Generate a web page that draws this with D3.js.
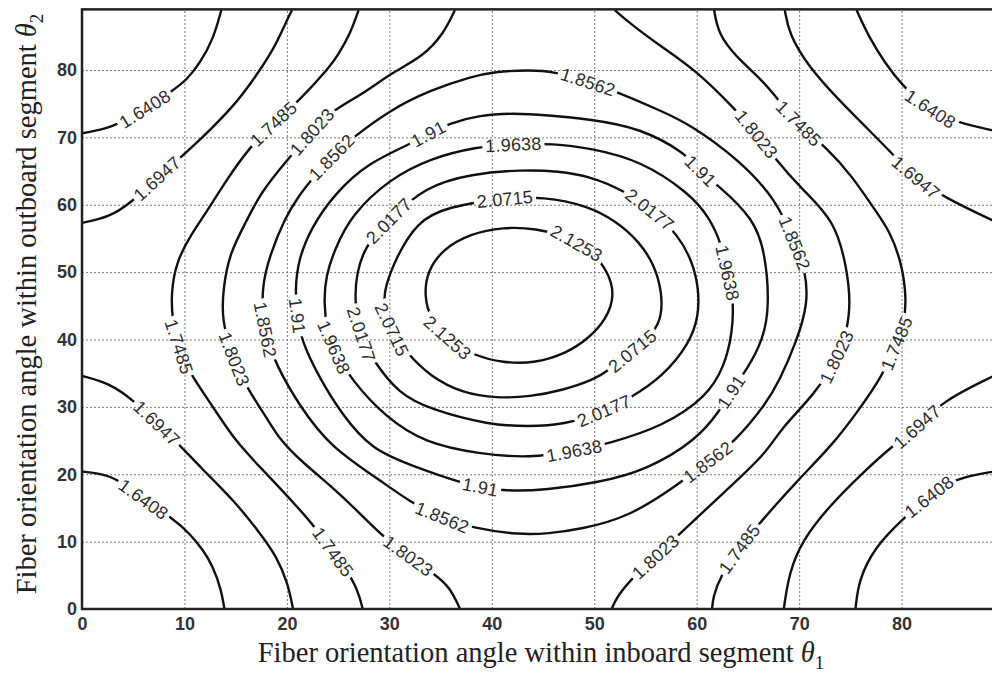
<!DOCTYPE html>
<html>
<head>
<meta charset="utf-8">
<script src="https://cdn.jsdelivr.net/npm/d3@7"></script>
<style>
  body { margin: 0; background: #fff; }
  svg { display: block; background: #fff; }
  .grid line { stroke: #7a7a7a; stroke-dasharray: 2,2; stroke-width: 1; }
  .grid path { display: none; }
  .ticks path { display: none; }
  .ticks line { display: none; }
  .ticks text { font: bold 18px Arial, "Liberation Sans", sans-serif; fill: #333; }
  .contour { fill: none; stroke: #111; stroke-width: 2.4; stroke-linejoin: round; }
  .clabel { font: 18px Arial, "Liberation Sans", sans-serif; fill: #2e2e2e; letter-spacing: 0.2px; }
  .title { font: 28.5px "Times New Roman", "Liberation Serif", serif; fill: #222; }
</style>
</head>
<body>
<svg id="chart" width="992" height="675"></svg>
<script>
// contour levels shown on the plot
var levels = [1.6408, 1.6947, 1.7485, 1.8023, 1.8562, 1.91, 1.9638, 2.0177, 2.0715, 2.1253]
var xTicks = [0, 10, 20, 30, 40, 50, 60, 70, 80]
var yTicks = [0, 10, 20, 30, 40, 50, 60, 70, 80]

// contour lines, points are [theta1, theta2]
var c16408TL = [[0, 70.6], [3.0, 71.4], [6.15, 74.2], [8.9, 77.0], [10.2, 78.5], [11.5, 81.0], [12.8, 84.5], [13.6, 88.9]]
var c16408TR = [[75.6, 88.9], [76.8, 84.9], [78.4, 81.0], [80.0, 77.8], [82.6, 74.1], [85.6, 72.1], [89, 71.0]]
var c16408BL = [[0, 20.4], [1.8, 20.1], [3.5, 19.3], [6.0, 16.2], [9.1, 13.2], [10.5, 11.2], [11.8, 8.8], [12.8, 6.3], [13.6, 2.8], [13.9, 0]]
var c16408BR = [[75.5, 0], [75.8, 4.3], [77.4, 9.2], [80.0, 13.2], [82.6, 16.7], [85.2, 19.4], [89, 20.4]]

var c16947TL = [[0, 57.3], [2.7, 58.2], [4.7, 60.2], [7.3, 63.9], [9.9, 67.4], [11.5, 69.6], [14.8, 74.6], [16.7, 78.5], [18.7, 83.0], [20.0, 87.4], [20.5, 88.9]]
var c16947TR = [[68.6, 88.9], [69.0, 85.4], [70.9, 80.5], [73.9, 75.5], [76.8, 71.1], [79.4, 67.1], [81.3, 63.9], [84.3, 61.0], [89, 57.6]]
var c16947BL = [[0, 34.6], [2.7, 33.5], [5.0, 31.0], [7.3, 27.6], [9.7, 24.1], [11.5, 21.1], [14.8, 16.2], [17.4, 11.2], [19.0, 7.8], [20.1, 3.8], [20.6, 0]]
var c16947BR = [[68.5, 0], [69.0, 5.3], [70.3, 10.2], [72.9, 15.2], [76.1, 20.1], [79.4, 24.6], [81.7, 27.1], [83.9, 30.8], [89, 34.6]]

var c17485L = [[27.0, 88.9], [26.2, 85.4], [24.9, 82.0], [24.2, 80.5], [21.3, 75.6], [18.7, 72.1], [16.4, 68.6], [14.1, 63.7],
  [12.2, 59.0], [10.6, 55.5], [9.2, 51.5], [8.7, 47.0], [8.8, 43.0], [9.4, 38.9], [10.5, 35.0], [12.8, 30.0], [15.0, 24.8],
  [18.0, 20.1], [21.3, 14.7], [22.7, 12.2], [24.5, 8.5], [26.5, 4.3], [27.1, 1.8], [27.4, 0]]
var c17485R = [[61.7, 88.9], [62.1, 85.4], [63.8, 82.0], [66.4, 78.5], [68.0, 75.5], [70.0, 71.8], [72.6, 68.6], [75.2, 64.2],
  [77.4, 59.2], [78.8, 56.2], [80.0, 51.5], [80.5, 46.0], [80.2, 42.0], [79.5, 39.4], [78.1, 34.5], [75.8, 29.5], [73.4, 24.6],
  [69.6, 18.7], [66.4, 13.2], [64.1, 9.0], [62.3, 4.8], [61.6, 1.8], [61.5, 0]]

var c18023L = [[36.4, 88.9], [35.3, 85.4], [33.3, 82.0], [30.1, 79.5], [27.5, 76.5], [24.2, 73.8], [22.3, 70.6], [20.0, 66.6],
  [17.4, 61.7], [16.1, 57.7], [14.4, 52.8], [13.8, 47.8], [13.6, 42.9], [14.8, 37.0], [16.2, 32.5], [18.0, 28.5], [19.3, 25.1],
  [21.5, 21.8], [24.2, 18.4], [26.8, 14.7], [29.4, 10.7], [31.9, 7.8], [34.3, 5.3], [35.9, 3.3], [36.9, 0]]
var c18023R = [[52.0, 88.9], [53.5, 86.9], [56.5, 83.5], [59.9, 80.0], [63.8, 74.1], [65.9, 70.5], [67.6, 66.9], [70.2, 62.4],
  [73.5, 57.7], [74.7, 50.3], [75.0, 45.4], [74.7, 41.4], [73.7, 37.2], [71.6, 32.0], [68.1, 26.6], [66.8, 23.1], [62.6, 17.2],
  [58.7, 11.7], [56.4, 8.3], [53.8, 4.8], [52.2, 1.8], [51.7, 0]]

var c18562 = [[43.7, 80.0], [40.5, 79.8], [37.9, 79.0], [34.0, 77.0], [30.1, 74.1], [26.2, 69.7], [24.3, 67.1], [22.4, 63.7],
  [21.1, 61.2], [19.8, 58.0], [18.4, 52.8], [17.5, 47.8], [17.7, 41.4], [19.0, 36.0], [21.3, 30.0], [24.2, 24.1], [29.1, 19.1],
  [32.0, 15.9], [35.1, 13.5], [38.2, 12.0], [42.8, 11.0], [45.5, 11.2], [48.6, 11.8], [53.5, 13.7], [58.4, 18.7], [61.1, 21.9],
  [63.6, 24.6], [66.8, 30.5], [68.1, 34.0], [69.7, 39.5], [70.9, 45.4], [70.6, 50.3], [69.6, 54.3], [67.8, 60.7], [64.2, 66.6],
  [59.3, 72.0], [56.4, 74.0], [52.8, 76.4], [49.4, 78.3], [46.0, 79.8]]
var c1910 = [[42.1, 73.6], [38.8, 73.3], [35.9, 72.1], [33.8, 70.6], [32.2, 69.1], [27.9, 66.2], [24.7, 61.7], [22.4, 56.7],
  [21.1, 51.8], [20.8, 47.3], [21.0, 43.6], [21.4, 39.9], [23.1, 34.5], [25.3, 29.0], [28.3, 23.6], [32.2, 21.3], [36.9, 18.7],
  [41.1, 17.4], [45.4, 17.7], [50.2, 18.7], [55.1, 20.6], [60.0, 25.1], [62.3, 29.5], [63.3, 32.3], [64.9, 35.5], [66.5, 40.0],
  [67.1, 45.0], [66.7, 52.8], [65.6, 57.9], [62.1, 62.9], [60.3, 64.9], [59.0, 67.6], [54.5, 71.4], [49.6, 72.7], [45.4, 73.3]]
var c19638 = [[42.1, 69.0], [38.5, 68.6], [34.0, 66.9], [30.0, 63.8], [26.3, 58.5], [24.7, 53.5], [23.8, 49.5], [23.6, 45.5],
  [23.9, 41.5], [24.7, 38.2], [26.3, 34.0], [29.6, 28.5], [33.5, 24.6], [38.8, 23.0], [43.7, 22.4], [48.0, 23.4], [51.5, 24.6],
  [56.7, 27.1], [61.0, 31.5], [62.7, 36.0], [63.5, 41.0], [63.6, 46.0], [63.0, 50.0], [62.4, 54.3], [61.2, 58.2], [59.3, 61.7],
  [54.5, 66.6], [49.6, 68.4], [46.0, 69.1]]
var c20177 = [[43.0, 65.2], [38.0, 64.6], [33.5, 62.7], [29.9, 57.7], [27.6, 53.8], [26.8, 49.8], [26.6, 45.9], [27.1, 40.7],
  [28.5, 36.7], [30.9, 32.0], [34.0, 29.6], [39.8, 27.3], [43.5, 27.1], [47.0, 27.3], [51.0, 29.3], [53.5, 31.3], [56.7, 34.5],
  [59.3, 39.4], [60.2, 43.5], [60.2, 47.5], [59.6, 51.5], [58.2, 55.5], [55.8, 59.0], [52.8, 62.2], [49.6, 64.2], [46.5, 65.0]]
var c20715 = [[41.3, 61.0], [35.6, 59.7], [32.7, 57.5], [30.6, 52.0], [29.6, 47.8], [29.4, 45.4], [30.1, 41.4], [31.7, 38.0],
  [34.0, 34.5], [37.2, 32.0], [40.5, 31.3], [43.7, 31.5], [47.0, 32.5], [49.9, 34.0], [51.5, 35.5], [53.6, 38.2], [55.8, 40.9],
  [56.6, 43.5], [56.6, 47.0], [55.9, 51.0], [54.4, 54.5], [52.2, 57.5], [49.3, 59.9], [45.0, 61.2]]
var c21253 = [[52.0, 46.5], [51.4, 50.0], [49.8, 53.0], [47.3, 55.3], [44.3, 56.5], [41.1, 56.7], [37.9, 55.7], [35.2, 53.4],
  [33.7, 50.1], [33.4, 46.5], [34.0, 43.0], [35.7, 40.0], [38.1, 37.7], [41.1, 36.5], [44.3, 36.5], [47.2, 37.9], [49.5, 40.2],
  [51.2, 43.1]]

var contours = [
  { level: levels[0], closed: false, pts: c16408TL }, { level: levels[0], closed: false, pts: c16408TR },
  { level: levels[0], closed: false, pts: c16408BL }, { level: levels[0], closed: false, pts: c16408BR },
  { level: levels[1], closed: false, pts: c16947TL }, { level: levels[1], closed: false, pts: c16947TR },
  { level: levels[1], closed: false, pts: c16947BL }, { level: levels[1], closed: false, pts: c16947BR },
  { level: levels[2], closed: false, pts: c17485L }, { level: levels[2], closed: false, pts: c17485R },
  { level: levels[3], closed: false, pts: c18023L }, { level: levels[3], closed: false, pts: c18023R },
  { level: levels[4], closed: true, pts: c18562 }, { level: levels[5], closed: true, pts: c1910 },
  { level: levels[6], closed: true, pts: c19638 }, { level: levels[7], closed: true, pts: c20177 },
  { level: levels[8], closed: true, pts: c20715 }, { level: levels[9], closed: true, pts: c21253 }
]

// where the inline labels sit (level, approx theta1, theta2)
var labelSpots = [
  [1.6408, 6.15, 74.1], [1.6947, 7.3, 64.0], [1.7485, 18.6, 72.1], [1.8023, 22.5, 70.8], [1.8562, 24.3, 67.1],
  [1.91, 33.8, 70.6], [1.9638, 42.1, 69.0], [2.0177, 29.9, 57.7], [2.0715, 41.3, 60.7], [2.0177, 55.4, 59.2],
  [1.8562, 49.4, 78.2], [2.1253, 48.1, 53.7], [1.8023, 65.9, 70.6], [1.7485, 69.9, 71.9], [1.6408, 82.7, 74.1],
  [1.91, 60.3, 64.9], [1.6947, 81.3, 64.0], [1.8562, 69.6, 54.3], [1.9638, 63.0, 49.9], [1.8023, 73.7, 37.4],
  [1.7485, 79.5, 39.5], [1.91, 63.2, 32.4], [1.6947, 81.6, 27.0], [2.0715, 53.7, 38.3], [2.0177, 51.0, 29.4],
  [1.9638, 48.0, 23.9], [1.91, 38.8, 17.7], [1.8562, 35.1, 13.5], [1.8023, 31.8, 7.7], [1.7485, 24.5, 8.5],
  [1.6947, 7.3, 27.6], [1.6408, 6.0, 16.2], [1.7485, 9.3, 38.9], [1.8023, 14.7, 37.0], [1.8562, 17.7, 41.4],
  [1.91, 21.0, 43.6], [1.9638, 24.0, 38.4], [2.0177, 27.1, 40.7], [2.0715, 30.1, 41.4], [2.1253, 35.6, 40.2],
  [1.8023, 55.2, 9.0], [1.8562, 61.1, 21.8], [1.7485, 64.0, 9.1], [1.6408, 82.7, 16.6]
]

var svg = d3.select('#chart')
var plotLeft = 82, plotBottom = 609
var x = d3.scaleLinear().domain([0, 89]).range([plotLeft, plotLeft + 89 * 10.245])
var y = d3.scaleLinear().domain([0, 89]).range([plotBottom, plotBottom - 89 * 6.7375])
var plotTop = y(89), plotRight = x(89)
var plotW = plotRight - plotLeft, plotH = plotBottom - plotTop

svg.append('clipPath').attr('id', 'plotclip')
  .append('rect').attr('x', plotLeft).attr('y', plotTop).attr('width', plotW).attr('height', plotH)

// dotted grid
svg.append('g').attr('class', 'grid').attr('transform', 'translate(0,' + plotBottom + ')')
  .call(d3.axisBottom(x).tickValues(xTicks.slice(1)).tickSize(-plotH).tickFormat(''))
svg.append('g').attr('class', 'grid').attr('transform', 'translate(' + plotLeft + ',0)')
  .call(d3.axisLeft(y).tickValues(yTicks.slice(1)).tickSize(-plotW).tickFormat(''))

// mask so the lines break under the labels
var mask = svg.append('mask').attr('id', 'labelmask').attr('maskUnits', 'userSpaceOnUse')
  .attr('x', 0).attr('y', 0).attr('width', 992).attr('height', 675)
mask.append('rect').attr('width', 992).attr('height', 675).attr('fill', '#fff')

var lines = svg.append('g').attr('clip-path', 'url(#plotclip)')
  .append('g').attr('mask', 'url(#labelmask)')

// b-spline keeps the hand-read points from wobbling
var lineGen = d3.line().x(function (d) { return x(d[0]) }).y(function (d) { return y(d[1]) })
var paths = contours.map(function (c) {
  lineGen.curve(c.closed ? d3.curveBasisClosed : d3.curveBasis)
  var p = lines.append('path').attr('class', 'contour').attr('d', lineGen(c.pts))
  return { level: c.level, node: p.node(), len: p.node().getTotalLength() }
})

var labels = svg.append('g')
labelSpots.forEach(function (s) {
  var tx = x(s[1]), ty = y(s[2])
  var best = null
  paths.filter(function (p) { return p.level === s[0] }).forEach(function (p) {
    for (var l = 0; l <= p.len; l += 1) {
      var pt = p.node.getPointAtLength(l)
      var d = (pt.x - tx) * (pt.x - tx) + (pt.y - ty) * (pt.y - ty)
      if (!best || d < best.d) best = { d: d, l: l, p: p }
    }
  })
  var c = best.p.node.getPointAtLength(best.l)
  var a = best.p.node.getPointAtLength(Math.max(0, best.l - 6))
  var b = best.p.node.getPointAtLength(Math.min(best.p.len, best.l + 6))
  var ang = Math.atan2(b.y - a.y, b.x - a.x) * 180 / Math.PI
  if (ang > 90) ang -= 180
  if (ang < -90) ang += 180
  var t = labels.append('text').attr('class', 'clabel')
    .attr('text-anchor', 'middle').attr('dy', '0.36em')
    .attr('transform', 'translate(' + c.x + ',' + c.y + ') rotate(' + ang + ')')
    .text(String(s[0]))
  var w = t.node().getComputedTextLength() + 6
  mask.append('rect').attr('x', -w / 2).attr('y', -8).attr('width', w).attr('height', 16)
    .attr('fill', '#000')
    .attr('transform', 'translate(' + c.x + ',' + c.y + ') rotate(' + ang + ')')
})

// tick labels
svg.append('g').attr('class', 'ticks').attr('transform', 'translate(0,' + plotBottom + ')')
  .call(d3.axisBottom(x).tickValues(xTicks).tickSize(0).tickPadding(8).tickFormat(d3.format('d')))
svg.append('g').attr('class', 'ticks').attr('transform', 'translate(' + plotLeft + ',0)')
  .call(d3.axisLeft(y).tickValues(yTicks).tickSize(0).tickPadding(5).tickFormat(d3.format('d')))

// frame
svg.append('rect').attr('x', plotLeft).attr('y', plotTop).attr('width', plotW).attr('height', plotH)
  .attr('fill', 'none').attr('stroke', '#222').attr('stroke-width', 2.5)

// axis titles
var xt = svg.append('text').attr('class', 'title').attr('x', 541).attr('y', 662).attr('text-anchor', 'middle')
xt.append('tspan').text('Fiber orientation angle within inboard segment ')
xt.append('tspan').style('font-style', 'italic').text('θ')
xt.append('tspan').attr('dy', 7).style('font-size', '19px').text('1')

var yt = svg.append('text').attr('class', 'title').attr('text-anchor', 'middle')
  .attr('transform', 'translate(36,304) rotate(-90)')
yt.append('tspan').text('Fiber orientation angle within outboard segment ')
yt.append('tspan').style('font-style', 'italic').text('θ')
yt.append('tspan').attr('dy', 7).style('font-size', '19px').text('2')
</script>
</body>
</html>
